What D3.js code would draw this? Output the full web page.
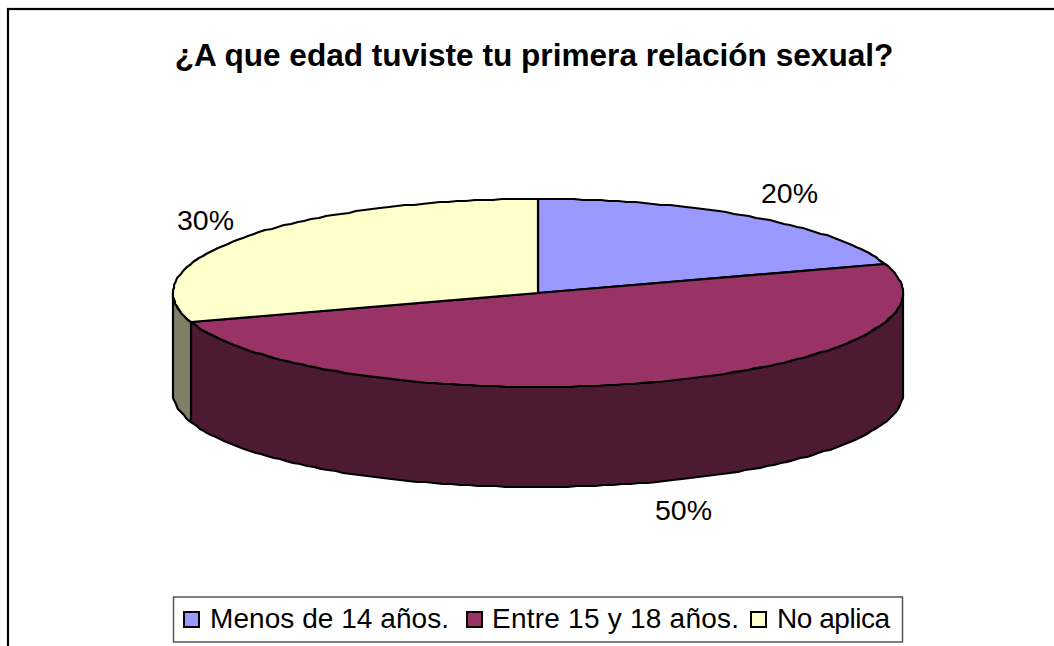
<!DOCTYPE html>
<html>
<head>
<meta charset="utf-8">
<script src="https://cdn.jsdelivr.net/npm/d3@7"></script>
<style>
  body { margin: 0; background: #fff; }
  text { font-family: "Liberation Sans", Arial, sans-serif; fill: #000; }
</style>
</head>
<body>
<script>
var titleText = "¿A que edad tuviste tu primera relación sexual?";
var categories = ["Menos de 14 años.", "Entre 15 y 18 años.", "No aplica"];
var values = [20, 50, 30];
var topColors = ["#9999ff", "#993366", "#ffffcc"];
var sideColors = ["#4d4d80", "#4d1a33", "#808066"];

var width = 1054, height = 646;
var cx = 538, cy = 293, rx = 365, ry = 94, depth = 100;

var svg = d3.select("body").append("svg")
    .attr("width", width)
    .attr("height", height)
    .style("display", "block");

// chart border, runs off the right and bottom of the page
svg.append("rect")
    .attr("x", 8).attr("y", 9)
    .attr("width", 1060).attr("height", 700)
    .attr("fill", "#fff")
    .attr("stroke", "#000")
    .attr("stroke-width", 2.2);

svg.append("text")
    .attr("x", 534).attr("y", 66)
    .attr("text-anchor", "middle")
    .attr("font-size", 31.6)
    .attr("font-weight", "bold")
    .text(titleText);

var pie = d3.pie().sort(null).value(function(d) { return d; });
var slices = pie(values);

// pie angles start at 12 o'clock and go clockwise
function ex(a) { return cx + rx * Math.sin(a); }
function ey(a) { return cy - ry * Math.cos(a); }

// rounded to whole pixels, the original outline is stepped
function rimPoints(a0, a1, dy) {
  var n = Math.max(2, Math.ceil((a1 - a0) / 0.025));
  return d3.range(n + 1).map(function(i) {
    var a = a0 + (a1 - a0) * i / n;
    return [Math.round(ex(a)), Math.round(ey(a)) + dy];
  });
}

var line = d3.line();

// side wall, only the front half of the rim shows
slices.forEach(function(s, i) {
  var a0 = Math.max(s.startAngle, Math.PI / 2);
  var a1 = Math.min(s.endAngle, 3 * Math.PI / 2);
  if (a1 <= a0) return;
  var pts = rimPoints(a0, a1, 0).concat(rimPoints(a0, a1, depth).reverse());
  svg.append("path")
      .attr("d", line(pts) + "Z")
      .attr("fill", sideColors[i])
      .attr("stroke", "#000")
      .attr("stroke-width", 2.2)
      .attr("stroke-linejoin", "round");
});

// top face
slices.forEach(function(s, i) {
  var pts = [[cx, cy]].concat(rimPoints(s.startAngle, s.endAngle, 0));
  svg.append("path")
      .attr("d", line(pts) + "Z")
      .attr("fill", topColors[i])
      .attr("stroke", "#000")
      .attr("stroke-width", 2.2)
      .attr("stroke-linejoin", "round");
});

// percent labels
var labelX = [789.5, 683.5, 205.5];
var labelY = [203, 520, 230];
slices.forEach(function(s, i) {
  svg.append("text")
      .attr("x", labelX[i]).attr("y", labelY[i])
      .attr("text-anchor", "middle")
      .attr("font-size", 28.5)
      .text(d3.format(".0%")(s.value / d3.sum(values)));
});

// legend
var legend = svg.append("g");
legend.append("rect")
    .attr("x", 173.5).attr("y", 597)
    .attr("width", 729).attr("height", 45)
    .attr("fill", "#fff")
    .attr("stroke", "#555")
    .attr("stroke-width", 1.5);

var swatchX = [184, 467, 751];
var legendTextX = [210, 492, 777];
var legendTextW = [239, 247, 113];
categories.forEach(function(c, i) {
  legend.append("rect")
      .attr("x", swatchX[i]).attr("y", 612)
      .attr("width", 15).attr("height", 15)
      .attr("fill", topColors[i])
      .attr("stroke", "#000")
      .attr("stroke-width", 2);
  legend.append("text")
      .attr("x", legendTextX[i]).attr("y", 628)
      .attr("font-size", 28)
      .attr("textLength", legendTextW[i])
      .text(c);
});
</script>
</body>
</html>
